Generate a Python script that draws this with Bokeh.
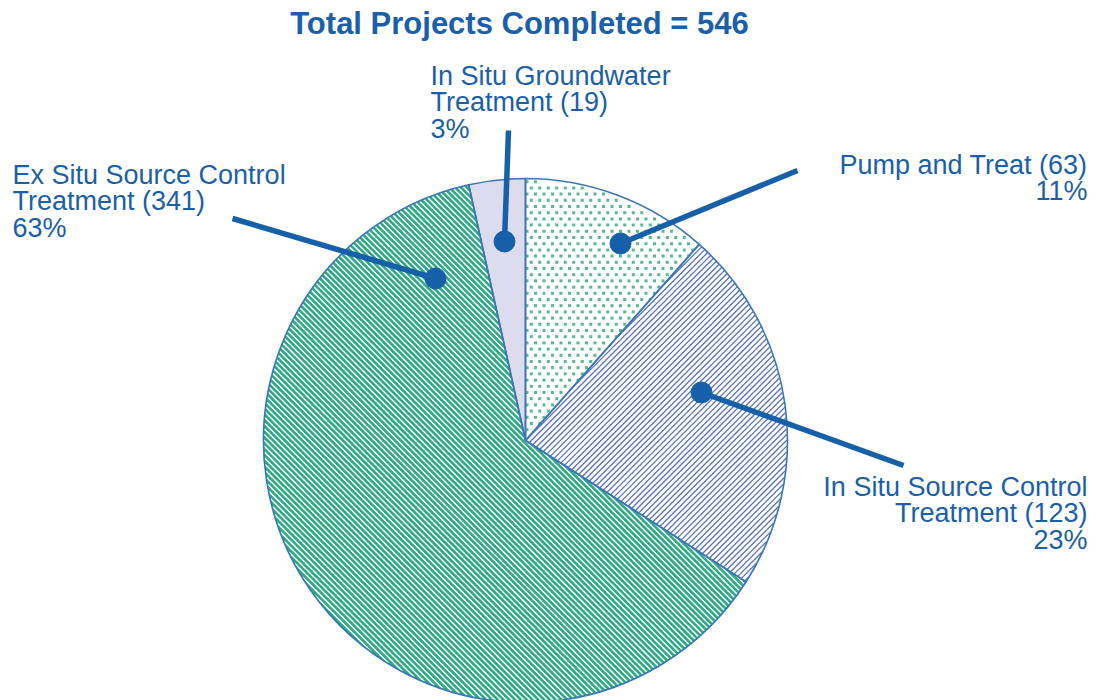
import math
from bokeh.plotting import figure
from bokeh.models import Range1d
from bokeh.core.properties import value
from bokeh.embed import file_html
from bokeh.resources import INLINE

# ---- data (clockwise from 12 o'clock) ----
categories = ["Pump and Treat", "In Situ Source Control Treatment",
              "Ex Situ Source Control Treatment", "In Situ Groundwater Treatment"]
counts = [63, 123, 341, 19]
percents = ["11%", "23%", "63%", "3%"]
title_text = "Total Projects Completed = 546"

label_lines = [
    ["Pump and Treat (63)", "11%"],
    ["In Situ Source Control", "Treatment (123)", "23%"],
    ["Ex Situ Source Control", "Treatment (341)", "63%"],
    ["In Situ Groundwater", "Treatment (19)", "3%"],
]

# ---- styling ----
TEXT_BLUE = "#1b5faa"
LINE_BLUE = "#1560a9"
EDGE_BLUE = "#3a76b8"
# fill colour, texture kind, texture colour, texture width
styles = [
    ("white", "dots", "#5ab991", 3.0),
    ("white", "slash", "#5873be", 1.3),
    ("#2daa82", "backslash", "white", 1.5),
    ("#dcdcee", None, None, 0),
]

W, H = 1098, 700
CX, CY = 525, 440   # pie centre in plot pixels from top-left
R = 262
p = figure(width=W, height=H, output_backend="svg", toolbar_location=None,
           x_range=Range1d(-CX, W - CX), y_range=Range1d(-(H - CY), CY),
           min_border=0)
p.axis.visible = False
p.grid.visible = False
p.outline_line_color = None
p.background_fill_color = "white"


def cross(a, b):
    return a[0] * b[1] - a[1] * b[0]


def in_wedge(x, y, a0, a1, rad):
    if x * x + y * y > rad * rad:
        return False
    th = math.atan2(y, x)
    return (a0 - th) % (2 * math.pi) <= (a0 - a1) + 1e-9


def clip_line(p0, d, a0, a1, rad):
    """segments of line p0 + t d lying inside the wedge"""
    b = p0[0] * d[0] + p0[1] * d[1]
    c = p0[0] ** 2 + p0[1] ** 2 - rad * rad
    disc = b * b - c
    if disc <= 0:
        return []
    t1, t2 = -b - math.sqrt(disc), -b + math.sqrt(disc)
    cuts = [t1, t2]
    for a in (a0, a1):
        u = (math.cos(a), math.sin(a))
        den = cross(d, u)
        if abs(den) < 1e-12:
            continue
        t = -cross(p0, u) / den
        s = (p0[0] + t * d[0]) * u[0] + (p0[1] + t * d[1]) * u[1]
        if s >= 0 and t1 < t < t2:
            cuts.append(t)
    cuts.sort()
    segs = []
    for ta, tb in zip(cuts[:-1], cuts[1:]):
        tm = (ta + tb) / 2
        if in_wedge(p0[0] + tm * d[0], p0[1] + tm * d[1], a0, a1, rad + 1):
            segs.append((ta, tb))
    return segs


def stripes(a0, a1, direction, period_v, rad):
    # direction: "backslash" (down-right on screen) or "slash" (up-right)
    s2 = math.sqrt(0.5)
    d = (s2, -s2) if direction == "backslash" else (s2, s2)
    nrm = (-d[1], d[0])
    step = period_v * s2  # perpendicular spacing
    xs, ys = [], []
    k = -int(rad / step) - 1
    while k * step <= rad + step:
        off = k * step
        p0 = (nrm[0] * off, nrm[1] * off)
        for ta, tb in clip_line(p0, d, a0, a1, rad):
            xs.append([p0[0] + ta * d[0], p0[0] + tb * d[0]])
            ys.append([p0[1] + ta * d[1], p0[1] + tb * d[1]])
        k += 1
    return xs, ys


def dot_grid(a0, a1, dx, dy, rad):
    xs, ys = [], []
    row = 0
    y = -rad
    while y <= rad:
        x = -rad + (dx / 2 if row % 2 else 0)
        while x <= rad:
            if in_wedge(x, y, a0, a1, rad - 3):
                xs.append(x)
                ys.append(y)
            x += dx
        y += dy
        row += 1
    return xs, ys


total = sum(counts)
cum = 0.0
angles = []
for c in counts:
    a0 = math.pi / 2 - 2 * math.pi * cum / total
    cum += c
    a1 = math.pi / 2 - 2 * math.pi * cum / total
    angles.append((a0, a1))

for (a0, a1), (fill, kind, tcol, tw) in zip(angles, styles):
    p.wedge(x=0, y=0, radius=R, radius_units="screen", start_angle=a0, end_angle=a1,
            direction="clock", fill_color=fill, line_color=None)
    if kind in ("slash", "backslash"):
        xs, ys = stripes(a0, a1, kind, 5.8, R - 0.5)
        p.multi_line(xs, ys, line_color=tcol, line_width=tw)
    elif kind == "dots":
        xs, ys = dot_grid(a0, a1, 8.5, 6.2, R)
        p.scatter(xs, ys, marker="square", size=tw, color=tcol, line_color=None)

for (a0, a1) in angles:
    p.wedge(x=0, y=0, radius=R, radius_units="screen", start_angle=a0, end_angle=a1,
            direction="clock", fill_color=None, line_color=EDGE_BLUE, line_width=1.6)

# leader lines (annotation positions, px relative to pie centre, y up)
leaders = [
    ((272, 270), (95, 197)),
    ((378, -25), (176, 48)),
    ((-293, 222), (-90, 162)),
    ((-17, 310), (-21, 199)),
]
for (x0, y0), (x1, y1) in leaders:
    p.line([x0, x1], [y0, y1], line_color=LINE_BLUE, line_width=5.5)
    p.scatter([x1], [y1], size=21, color=LINE_BLUE)

# labels: (x, first line centre y, align)
label_pos = [
    (1087 - CX, CY - 164, "right"),
    (1087 - CX, CY - 486, "right"),
    (12 - CX, CY - 174, "left"),
    (430 - CX, CY - 75, "left"),
]
LH = 26.7
for lines, (x, y, al) in zip(label_lines, label_pos):
    for i, t in enumerate(lines):
        p.text(x=[x], y=[y - i * LH], text=[t], text_align=al, text_baseline="middle",
               text_font=value("Liberation Sans"), text_font_size="27px", text_color=TEXT_BLUE)

p.text(x=[519 - CX], y=[CY - 23], text=[title_text], text_align="center", text_baseline="middle",
       text_font=value("Liberation Sans"), text_font_size="31px", text_font_style="bold",
       text_color=TEXT_BLUE)

open("out.html", "w").write(file_html(p, INLINE))
